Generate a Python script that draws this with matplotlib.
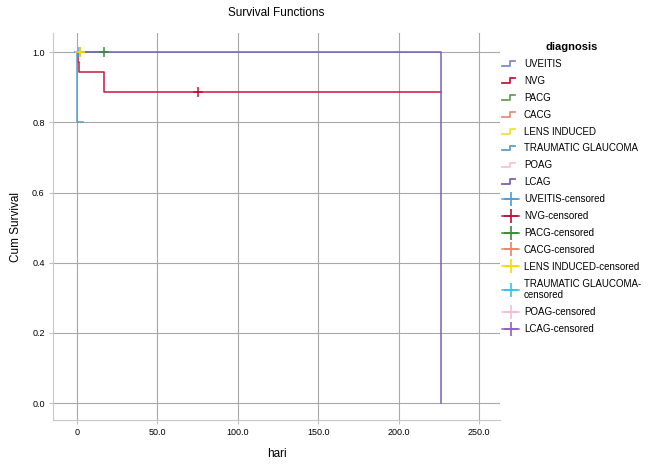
import matplotlib
matplotlib.use('Agg')
import matplotlib.pyplot as plt
from matplotlib.lines import Line2D
from matplotlib.legend_handler import HandlerBase

plt.rcParams['font.family'] = ['Liberation Sans', 'DejaVu Sans']

# kelompok diagnosis dan warna SPSS
groups = ['UVEITIS', 'NVG', 'PACG', 'CACG', 'LENS INDUCED', 'TRAUMATIC GLAUCOMA', 'POAG', 'LCAG']
line_colors = ['#7f8ccc', '#c8193f', '#6aa05a', '#e0907a', '#f0e040', '#5aa0c8', '#f4c4d8', '#7a5fb8']
cens_colors = ['#4a9ee0', '#c0103a', '#3a8a3a', '#e88468', '#f2dc00', '#30c4ee', '#f4bcd4', '#9060c0']

# kurva KM (waktu, survival) tiap kelompok
times = {
    'UVEITIS': [0, 1],
    'NVG': [0, 0.4, 1.5, 17, 226],
    'PACG': [0, 17],
    'CACG': [0, 2],
    'LENS INDUCED': [0, 2],
    'TRAUMATIC GLAUCOMA': [0, 0.3, 4],
    'POAG': [0, 5],
    'LCAG': [0, 226],
}
surv = {
    'UVEITIS': [1.0, 1.0],
    'NVG': [1.0, 0.971, 0.943, 0.886, 0.886],
    'PACG': [1.0, 1.0],
    'CACG': [1.0, 1.0],
    'LENS INDUCED': [1.0, 1.0],
    'TRAUMATIC GLAUCOMA': [1.0, 0.8, 0.8],
    'POAG': [1.0, 1.0],
    'LCAG': [1.0, 0.0],
}
# titik tersensor
cens_t = {
    'UVEITIS': [1], 'NVG': [75], 'PACG': [17], 'CACG': [2],
    'LENS INDUCED': [2], 'TRAUMATIC GLAUCOMA': [], 'POAG': [], 'LCAG': [],
}
cens_s = {
    'UVEITIS': [1.0], 'NVG': [0.886], 'PACG': [1.0], 'CACG': [1.0],
    'LENS INDUCED': [1.0], 'TRAUMATIC GLAUCOMA': [], 'POAG': [], 'LCAG': [],
}

x_ticks = [0, 50, 100, 150, 200, 250]
x_labels = ['0', '50.0', '100.0', '150.0', '200.0', '250.0']
y_ticks = [0.0, 0.2, 0.4, 0.6, 0.8, 1.0]
y_labels = ['0.0', '0.2', '0.4', '0.6', '0.8', '1.0']


class StepHandler(HandlerBase):
    # simbol tangga kecil seperti legenda SPSS
    def create_artists(self, legend, orig_handle, xdescent, ydescent, width, height, fontsize, trans):
        xs = [0, width * 0.45, width * 0.45, width * 0.75]
        ys = [0.15 * height, 0.15 * height, 0.85 * height, 0.85 * height]
        ln = Line2D([x - xdescent for x in xs], [y - ydescent for y in ys],
                    color=orig_handle.get_color(), lw=1.3, transform=trans)
        return [ln]


fig = plt.figure(figsize=(6.57, 4.67), dpi=100, facecolor='white')
ax = fig.add_axes([0.0807, 0.1006, 0.6804, 0.8284])

ax.set_xlim(-14.9, 263)
ax.set_ylim(-0.048, 1.054)
ax.set_xticks(x_ticks)
ax.set_xticklabels(x_labels, fontsize=6.5)
ax.set_yticks(y_ticks)
ax.set_yticklabels(y_labels, fontsize=6.5)
ax.grid(color='#a8a8a8', lw=0.8)
ax.set_axisbelow(True)
for s in ['top', 'right']:
    ax.spines[s].set_visible(False)
for s in ['left', 'bottom']:
    ax.spines[s].set_color('#c8c8c8')
ax.tick_params(length=3, color='#c0c0c0', pad=3)

handles = []
labels = []
for g, c in zip(groups, line_colors):
    ln, = ax.plot(times[g], surv[g], drawstyle='steps-post', color=c, lw=1.1)
    handles.append(ln)
    labels.append(g)
for g, c in zip(groups, cens_colors):
    ax.plot(cens_t[g], cens_s[g], ls='none', marker='+', ms=7, mew=1.1, color=c)
    handles.append(Line2D([], [], color=c, marker='+', ms=10, mew=1.2, lw=1.1))
    if g == 'TRAUMATIC GLAUCOMA':
        labels.append(g + '-\ncensored')
    else:
        labels.append(g + '-censored')

ax.set_title('Survival Functions', fontsize=8.5, pad=12)
ax.set_xlabel('hari', fontsize=8.5, labelpad=8)
ax.set_ylabel('Cum Survival', fontsize=8.5, labelpad=7)

hmap = {h: StepHandler() for h in handles[:8]}
leg = fig.legend(handles, labels, handler_map=hmap, loc='upper left',
                 bbox_to_anchor=(0.764, 0.91), frameon=False, fontsize=7,
                 title='diagnosis', title_fontproperties={'size': 8, 'weight': 'bold'},
                 handlelength=1.8, handletextpad=0.45, labelspacing=0.71,
                 borderaxespad=0, borderpad=0)

fig.savefig('out.png', dpi=100)
